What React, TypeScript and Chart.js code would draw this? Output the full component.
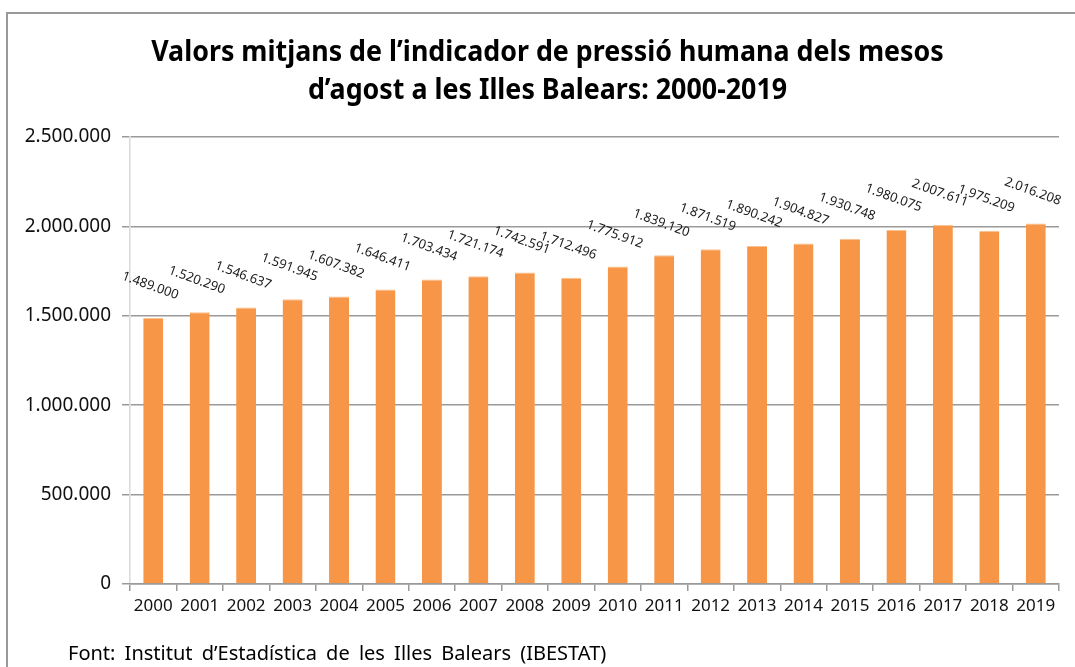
import React, { useEffect, useRef } from "react";
import { Chart, registerables } from "chart.js";

Chart.register(...registerables);

const years = ["2000","2001","2002","2003","2004","2005","2006","2007","2008","2009","2010","2011","2012","2013","2014","2015","2016","2017","2018","2019"];
const values = [1489000,1520290,1546637,1591945,1607382,1646411,1703434,1721174,1742591,1712496,1775912,1839120,1871519,1890242,1904827,1930748,1980075,2007611,1975209,2016208];
const titleLines = ["Valors mitjans de l\u2019indicador de pressió humana dels mesos", "d\u2019agost a les Illes Balears: 2000-2019"];
const sourceText = "Font: Institut d\u2019Estadística de les Illes Balears (IBESTAT)";

const fmt = (n: number) => n.toString().replace(/\B(?=(\d{3})+(?!\d))/g, ".");

const labelPlugin = {
  id: "rotLabels",
  afterDatasetsDraw(chart: any) {
    const ctx = chart.ctx;
    const meta = chart.getDatasetMeta(0);
    ctx.save();
    ctx.font = "13px 'Noto Sans'";
    ctx.fillStyle = "#1a1a1a";
    ctx.textAlign = "center";
    ctx.textBaseline = "middle";
    meta.data.forEach((el: any, i: number) => {
      ctx.save();
      ctx.translate(el.x - 3, el.y - 32);
      ctx.rotate((20 * Math.PI) / 180);
      ctx.fillText(fmt(values[i]), 0, 0);
      ctx.restore();
    });
    ctx.restore();
  },
};

export default function App() {
  const ref = useRef<HTMLCanvasElement>(null);
  useEffect(() => {
    if (!ref.current) return;
    const chart = new Chart(ref.current, {
      type: "bar",
      data: {
        labels: years,
        datasets: [
          {
            data: values,
            backgroundColor: "#F79646",
            borderColor: "#FAC090",
            borderWidth: { top: 1, left: 0, right: 0, bottom: 0 },
            barPercentage: 0.43,
            categoryPercentage: 1,
          },
        ],
      },
      options: {
        responsive: false,
        animation: false,
        layout: { padding: { top: 137, right: 16, left: 0, bottom: 0 } },
        plugins: { legend: { display: false }, tooltip: { enabled: false }, title: { display: false } },
        scales: {
          y: {
            min: 0,
            max: 2500000,
            afterFit: (s: any) => { s.width = 130; },
            ticks: {
              stepSize: 500000,
              color: "#111",
              font: { family: "'Noto Sans'", size: 19 },
              padding: 11,
              callback: (v: any) => fmt(Number(v)),
            },
            grid: { color: "#9a9a9a", lineWidth: 1.5, tickLength: 8 },
            border: { color: "#d9d9d9", width: 1.5 },
          },
          x: {
            afterFit: (s: any) => { s.height = 83; },
            ticks: {
              color: "#111",
              font: { family: "'Noto Sans'", size: 17 },
              padding: 5,
              maxRotation: 0,
              autoSkip: false,
            },
            grid: { offset: true, drawOnChartArea: false, color: "#9a9a9a", lineWidth: 1.5, tickLength: 7 },
            border: { color: "#9a9a9a", width: 1.5 },
          },
        },
      },
      plugins: [labelPlugin],
    });
    return () => chart.destroy();
  }, []);

  return (
    <div style={{ position: "fixed", left: 0, top: 0, width: 1075, height: 667, background: "#fff", overflow: "hidden" }}>
      <div style={{ position: "absolute", left: 6, top: 12, width: 1200, height: 800, borderLeft: "2px solid #999", borderTop: "2px solid #999" }} />
      <canvas ref={ref} width={1075} height={667} style={{ position: "absolute", left: 0, top: 0 }} />
      <div
        style={{
          position: "absolute",
          left: 10,
          top: 31,
          width: 1075,
          textAlign: "center",
          fontFamily: "'Noto Sans'",
          fontWeight: 700,
          fontSize: 29,
          lineHeight: "38px",
          color: "#000",
          whiteSpace: "nowrap",
          transform: "scaleX(0.925)",
        }}
      >
        <div>{titleLines[0]}</div>
        <div>{titleLines[1]}</div>
      </div>
      <div
        style={{
          position: "absolute",
          left: 68,
          top: 639,
          fontFamily: "'Noto Sans'",
          fontSize: 20,
          lineHeight: "28px",
          color: "#000",
          whiteSpace: "nowrap",
          wordSpacing: 4,
        }}
      >
        {sourceText}
      </div>
    </div>
  );
}
